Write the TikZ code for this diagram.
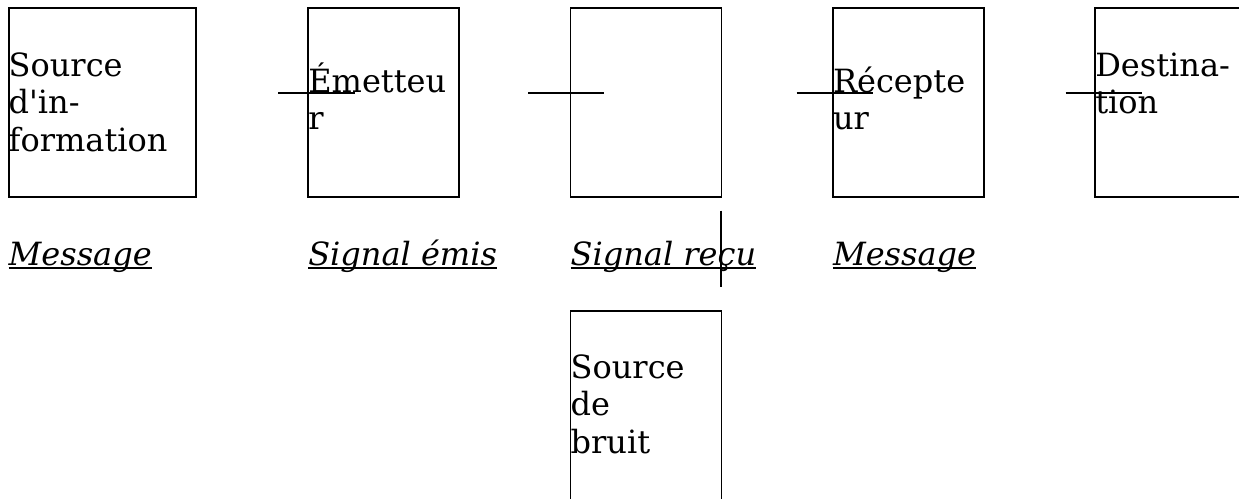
\documentclass[tikz,border=0pt]{standalone}
\usepackage{fontspec}
\setmainfont{DejaVu Serif}
\begin{document}
\begin{tikzpicture}[x=1pt,y=-1pt,
  blockbox/.style={draw,line width=1.9pt,inner sep=0pt,outer sep=0pt,minimum width=151pt,minimum height=189pt},
  boxtext/.style={anchor=base west,inner sep=0pt,outer sep=0pt,align=left,font=\fontsize{32}{37.25}\selectfont},
  labeltext/.style={anchor=base west,inner sep=0pt,outer sep=0pt,font=\fontsize{32}{37.25}\selectfont\itshape},
  uline/.style={line width=1.5pt},
  wire/.style={line width=1.9pt}]
\useasboundingbox (0,0) rectangle (1239,498);
% boxes
\node[blockbox,minimum width=187.6pt] (b1) at (102.5,102.7) {};
\node[blockbox] (b2) at (383.8,102.7) {};
\node[blockbox] (b3) at (646,102.7) {};
\node[blockbox] (b4) at (908.2,102.7) {};
\node[blockbox] (b5) at (1170.8,102.7) {};
\node[blockbox] (b6) at (646,405.5) {};
% box texts (anchored at the baseline of the last line)
\node[boxtext] (t1) at (8.7,151) {Source\\d\textquotesingle in-\\formation};
\node[boxtext] (t2) at (308.3,129.3) {Émetteu\\r};
\node[boxtext] (t4) at (833,129.3) {Récepte\\ur};
\node[boxtext] (t5) at (1095.3,113.3) {Destina-\\tion};
\node[boxtext] (t6) at (570.7,453) {Source\\de\\bruit};
% labels
\node[labeltext] (l1) at (8.7,265) {Message};
\node[labeltext] (l2) at (308.3,265) {Signal émis};
\node[labeltext] (l3) at (570.7,265) {Signal reçu};
\node[labeltext] (l4) at (833,265) {Message};
\foreach \l in {l1,l2,l3,l4}{
  \draw[uline] ([yshift=-3pt]\l.base west) -- ([yshift=-3pt]\l.base east);
}
% connectors
\coordinate (a1) at (278.3,93.3); \coordinate (a2) at (355,93.3);
\coordinate (c1) at (528.3,93.3); \coordinate (c2) at (604.3,93.3);
\coordinate (d1) at (796.7,93.3); \coordinate (d2) at (873.3,93.3);
\coordinate (e1) at (1065.7,93.3); \coordinate (e2) at (1142.3,93.3);
\coordinate (v1) at (721.3,210.7); \coordinate (v2) at (721.3,286.7);
\draw[wire] (a1) -- (a2);
\draw[wire] (c1) -- (c2);
\draw[wire] (d1) -- (d2);
\draw[wire] (e1) -- (e2);
\draw[wire] (v1) -- (v2);
\end{tikzpicture}
\end{document}
